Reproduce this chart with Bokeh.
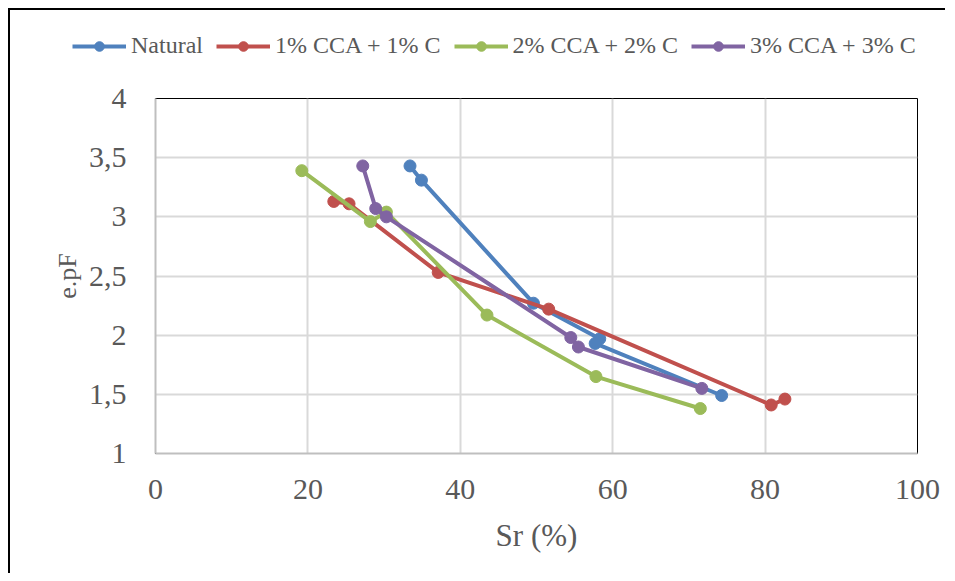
from bokeh.plotting import figure
from bokeh.models import FixedTicker, Legend, LegendItem, Range1d
from bokeh.embed import file_html
from bokeh.resources import INLINE

# ---- data ----
series_names = ["Natural", "1% CCA + 1% C", "2% CCA + 2% C", "3% CCA + 3% C"]
natural_sr = [33.4, 34.9, 49.6, 58.3, 57.7, 74.3]
natural_pf = [3.43, 3.31, 2.27, 1.97, 1.93, 1.49]
cca1_sr = [23.4, 25.4, 37.1, 51.6, 80.8, 82.6]
cca1_pf = [3.13, 3.11, 2.53, 2.22, 1.41, 1.46]
cca2_sr = [19.2, 28.2, 30.3, 43.5, 57.8, 71.5]
cca2_pf = [3.39, 2.96, 3.04, 2.17, 1.65, 1.38]
cca3_sr = [27.2, 28.9, 30.3, 54.5, 55.5, 71.7]
cca3_pf = [3.43, 3.07, 3.00, 1.98, 1.90, 1.55]
colors = ["#4F81BD", "#C0504D", "#9BBB59", "#8064A2"]
x_ticks = [0, 20, 40, 60, 80, 100]
y_ticks = [1, 1.5, 2, 2.5, 3, 3.5, 4]
y_tick_labels = ["1", "1,5", "2", "2,5", "3", "3,5", "4"]

FONT = "Liberation Serif"
TXT = "#595959"

xs = [natural_sr, cca1_sr, cca2_sr, cca3_sr]
ys = [natural_pf, cca1_pf, cca2_pf, cca3_pf]

# ---- legend strip above the chart (hidden copies of the series feed the legend glyphs) ----
lf = figure(width=937, height=70, output_backend="svg", toolbar_location=None,
            x_range=Range1d(0, 100), y_range=Range1d(1, 4),
            x_axis_location=None, y_axis_location=None,
            min_border_left=0, min_border_right=0, min_border_top=0, min_border_bottom=0,
            styles={"margin-left": "8px", "margin-top": "8px",
                    "border-left": "2px solid #000000", "border-top": "2px solid #000000"})
lf.grid.visible = False
lf.outline_line_color = None
lf.background_fill_color = "white"
lf.border_fill_color = "white"
items = []
for name, x, y, c in zip(series_names, xs, ys, colors):
    l = lf.line(x, y, line_color=c, line_width=4, visible=False)
    s = lf.scatter(x, y, marker="circle", size=12, fill_color=c, line_color=c, visible=False)
    items.append(LegendItem(label=name, renderers=[l, s]))
legend = Legend(items=items, orientation="horizontal", location=(62, 21),
                glyph_width=54, glyph_height=24, label_height=24, label_standoff=5,
                spacing=13, padding=0, margin=0,
                label_text_font=FONT, label_text_color=TXT, label_text_font_size="24px",
                border_line_color=None, background_fill_alpha=0,
                inactive_fill_alpha=0)
lf.add_layout(legend, "center")

# ---- main chart ----
p = figure(width=937, height=495, output_backend="svg", toolbar_location=None,
           x_range=Range1d(0, 100), y_range=Range1d(1, 4),
           min_border_left=145, min_border_right=30, min_border_top=20, min_border_bottom=120,
           styles={"margin-left": "8px", "border-left": "2px solid #000000"})

p.background_fill_color = "white"
p.border_fill_color = "white"
p.outline_line_color = "#000000"
p.outline_line_width = 1

p.xgrid.grid_line_color = "#D9D9D9"
p.ygrid.grid_line_color = "#D9D9D9"
p.xgrid.grid_line_width = 2
p.ygrid.grid_line_width = 2

p.xaxis.ticker = FixedTicker(ticks=x_ticks)
p.yaxis.ticker = FixedTicker(ticks=y_ticks)
p.yaxis.major_label_overrides = {t: l for t, l in zip(y_ticks, y_tick_labels)}

for ax in (p.xaxis[0], p.yaxis[0]):
    ax.axis_line_color = "#BFBFBF"
    ax.axis_line_width = 2
    ax.major_tick_line_color = None
    ax.minor_tick_line_color = None
    ax.major_label_text_font = FONT
    ax.major_label_text_color = TXT
    ax.major_label_text_font_size = "30px"
    ax.axis_label_text_font = FONT
    ax.axis_label_text_color = TXT
    ax.axis_label_text_font_style = "normal"

p.xaxis.axis_label = "Sr (%)"
p.yaxis.axis_label = "e.pF"
p.xaxis.axis_label_text_font_size = "31px"
p.yaxis.axis_label_text_font_size = "26px"
p.xaxis.major_label_standoff = 20
p.yaxis.major_label_standoff = 23
p.xaxis.axis_label_standoff = 16
p.yaxis.axis_label_standoff = 4

for x, y, c in zip(xs, ys, colors):
    p.line(x, y, line_color=c, line_width=4)
    p.scatter(x, y, marker="circle", size=12, fill_color=c, line_color=c)

open("out.html", "w").write(file_html([lf, p], INLINE))
